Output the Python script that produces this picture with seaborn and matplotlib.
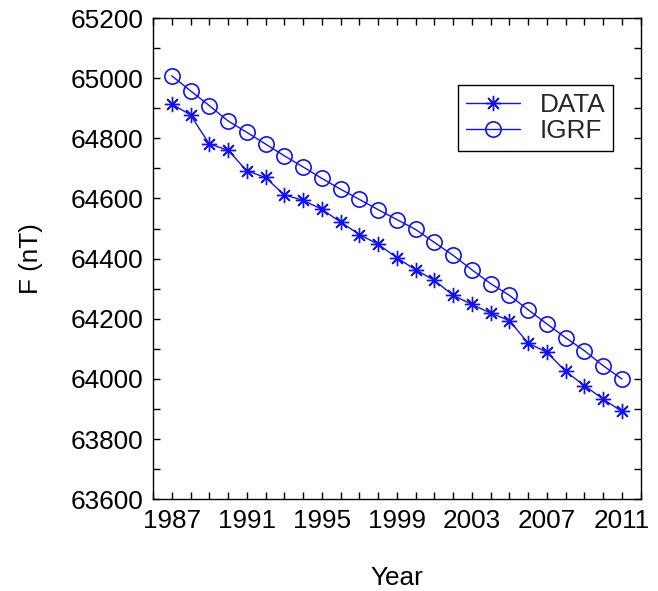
import numpy as np
import pandas as pd
import matplotlib
matplotlib.use("Agg")
import matplotlib.pyplot as plt
from matplotlib.ticker import MultipleLocator
from matplotlib.lines import Line2D
import seaborn as sns

years = list(range(1987, 2012))
data_f = [64914, 64878, 64781, 64761, 64692, 64670, 64612, 64594, 64564, 64522,
          64480, 64448, 64403, 64363, 64328, 64278, 64248, 64219, 64194, 64119,
          64089, 64025, 63978, 63933, 63892]
igrf_f = [65008, 64958, 64909, 64858, 64820, 64781, 64742, 64705, 64667, 64631,
          64597, 64563, 64530, 64497, 64454, 64411, 64363, 64317, 64278, 64230,
          64183, 64137, 64094, 64044, 64000]
year_labels = [1987, 1991, 1995, 1999, 2003, 2007, 2011]
f_labels = list(range(63600, 65201, 200))

sns.set_theme(style="white")
plt.rcParams["font.family"] = ["Liberation Sans", "DejaVu Sans"]

df = pd.DataFrame({"Year": years, "DATA": data_f, "IGRF": igrf_f})

fig = plt.figure(figsize=(6.58, 5.91), dpi=100)
ax = fig.add_axes([0.2325, 0.1552, 0.7412, 0.8143])

blue = "#1010ff"
star = (8, 2, 0)
fs = 18.8
sns.lineplot(data=df, x="Year", y="DATA", ax=ax, color=blue, lw=1.0,
             marker=star, markersize=11, markeredgewidth=1.0,
             markeredgecolor=blue)
sns.lineplot(data=df, x="Year", y="IGRF", ax=ax, color=blue, lw=1.0,
             marker="o", markersize=11, markerfacecolor="none",
             markeredgewidth=1.2, markeredgecolor=blue)

ax.set_xlim(1986, 2012)
ax.set_ylim(63600, 65200)
ax.set_xticks(year_labels)
ax.set_xticklabels([str(y) for y in year_labels])
ax.xaxis.set_minor_locator(MultipleLocator(1))
ax.set_yticks(f_labels)
ax.set_yticklabels([str(v) for v in f_labels])
ax.yaxis.set_minor_locator(MultipleLocator(100))

ax.tick_params(axis="both", which="both", direction="in", top=True, right=True,
               bottom=True, left=True, color="black", width=1.0)
ax.tick_params(axis="both", which="major", length=5, labelsize=fs, pad=7,
               labelcolor="black")
ax.tick_params(axis="both", which="minor", length=5)
for s in ax.spines.values():
    s.set_visible(True)
    s.set_color("black")
    s.set_linewidth(1.0)

ax.set_xlabel("Year", fontsize=fs, color="black", labelpad=24)
ax.set_ylabel("F (nT)", fontsize=fs, color="black", labelpad=20)

handles = [
    Line2D([], [], color=blue, lw=1.0, marker=star, markersize=11,
           markeredgewidth=1.0, markeredgecolor=blue),
    Line2D([], [], color=blue, lw=1.0, marker="o", markersize=11,
           markerfacecolor="none", markeredgewidth=1.2, markeredgecolor=blue),
]
leg = ax.legend(handles, ["DATA", "IGRF"], loc="upper right",
                bbox_to_anchor=(0.944, 0.861), fontsize=fs, frameon=True,
                fancybox=False, edgecolor="black", framealpha=1,
                handlelength=2.1, handletextpad=0.75, borderpad=0.3,
                labelspacing=0.08, borderaxespad=0)
leg.get_frame().set_linewidth(1.0)

fig.savefig("out.png", dpi=100, facecolor="white")
